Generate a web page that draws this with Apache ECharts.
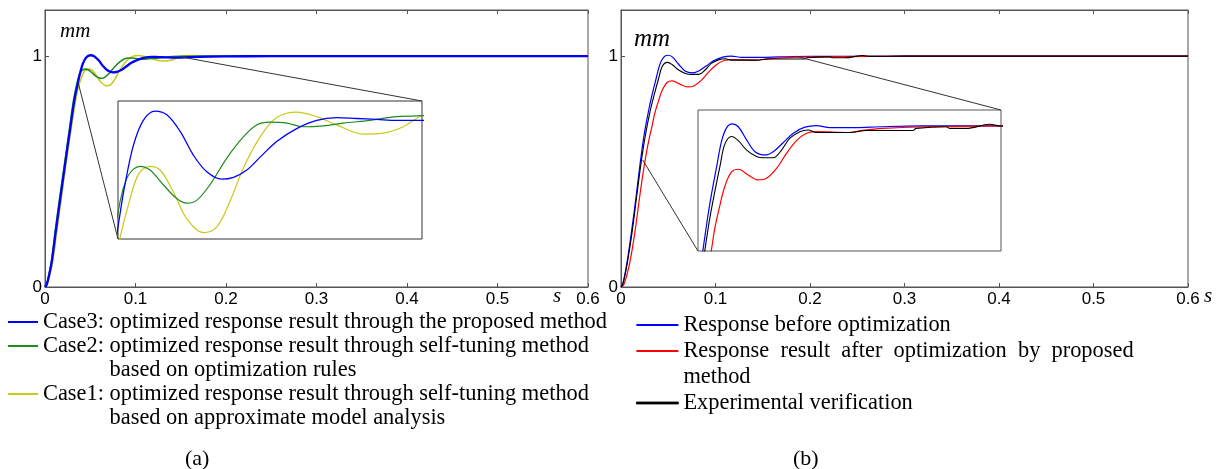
<!DOCTYPE html>
<html>
<head>
<meta charset="utf-8">
<style>
html,body{margin:0;padding:0;background:#fff;}
#chart{width:1225px;height:469px;}
</style>
<script src="https://cdn.jsdelivr.net/npm/echarts@6/dist/echarts.min.js"></script>
</head>
<body>
<div id="chart"></div>
<script>
// (a) step responses [time s, displacement mm]
const case3 = [[0,0],[0.002,0.012],[0.004,0.042],[0.0075,0.11],[0.0122,0.25],[0.0173,0.395],[0.0225,0.54],[0.0276,0.68],[0.0325,0.81],[0.0368,0.893],[0.0386,0.924],[0.0418,0.967],[0.0455,0.994],[0.0499,1.004],[0.0543,1.0],[0.0593,0.982],[0.0643,0.956],[0.0693,0.938],[0.0749,0.93],[0.0793,0.932],[0.0843,0.94],[0.0893,0.954],[0.0955,0.971],[0.103,0.985],[0.1105,0.994],[0.118,0.997],[0.1255,0.996],[0.133,0.995],[0.1405,0.994],[0.15,0.994],[0.17,0.997],[0.2,0.999],[0.25,1.0],[0.6,1.0]];
const case2 = [[0,0],[0.002,0.014],[0.004,0.048],[0.007,0.11],[0.0115,0.25],[0.0165,0.395],[0.0218,0.54],[0.027,0.685],[0.032,0.82],[0.0368,0.906],[0.0393,0.931],[0.0418,0.941],[0.0443,0.944],[0.048,0.94],[0.053,0.924],[0.058,0.909],[0.0618,0.904],[0.0655,0.907],[0.0705,0.924],[0.0768,0.953],[0.083,0.976],[0.088,0.989],[0.093,0.992],[0.0993,0.991],[0.1055,0.987],[0.113,0.988],[0.1205,0.991],[0.1305,0.994],[0.1405,0.998],[0.15,0.999],[0.18,1.0],[0.6,1.0]];
const case1 = [[0,0],[0.002,0.008],[0.004,0.034],[0.008,0.1],[0.013,0.24],[0.018,0.385],[0.023,0.53],[0.0285,0.675],[0.0335,0.8],[0.0368,0.866],[0.0399,0.902],[0.0436,0.935],[0.0478,0.944],[0.0518,0.94],[0.0568,0.916],[0.0618,0.887],[0.068,0.872],[0.073,0.878],[0.078,0.906],[0.083,0.942],[0.0893,0.976],[0.0955,0.997],[0.103,1.003],[0.1105,0.998],[0.118,0.989],[0.128,0.979],[0.1355,0.98],[0.143,0.987],[0.15,0.999],[0.16,1.003],[0.18,1.001],[0.21,1.0],[0.6,1.0]];

// (b)
const before = [[0,0],[0.002,0.015],[0.0061,0.1],[0.0113,0.245],[0.0159,0.39],[0.0201,0.53],[0.0243,0.655],[0.0295,0.77],[0.033,0.835],[0.037,0.9],[0.041,0.963],[0.045,0.995],[0.0495,1.004],[0.0543,0.997],[0.061,0.965],[0.0677,0.936],[0.0757,0.928],[0.0823,0.936],[0.0903,0.958],[0.0984,0.981],[0.1077,0.996],[0.117,1.0],[0.1277,0.995],[0.149,0.995],[0.1678,0.997],[0.2025,0.999],[0.264,0.999],[0.3,1.0],[0.6,1.0]];
const after = [[0,0],[0.003,0.01],[0.009,0.1],[0.0148,0.24],[0.0194,0.38],[0.0236,0.5],[0.0282,0.61],[0.033,0.7],[0.0356,0.75],[0.0396,0.805],[0.0436,0.852],[0.049,0.887],[0.0543,0.893],[0.0623,0.879],[0.0703,0.867],[0.077,0.871],[0.085,0.895],[0.093,0.932],[0.101,0.963],[0.109,0.981],[0.117,0.985],[0.1437,0.983],[0.154,0.988],[0.17,0.993],[0.2025,0.997],[0.264,0.999],[0.3,1.0],[0.6,1.0]];
const experiment = [[0,0],[0.002,0.013],[0.0065,0.1],[0.012,0.245],[0.0165,0.39],[0.021,0.53],[0.0255,0.65],[0.031,0.765],[0.0356,0.84],[0.0396,0.9],[0.0436,0.955],[0.049,0.973],[0.0543,0.963],[0.061,0.94],[0.069,0.924],[0.0743,0.921],[0.0823,0.921],[0.089,0.94],[0.0957,0.969],[0.1037,0.985],[0.1104,0.989],[0.117,0.983],[0.1437,0.983],[0.157,0.988],[0.1945,0.988],[0.197,0.993],[0.221,0.997],[0.224,0.993],[0.237,0.993],[0.256,1.003],[0.264,0.999],[0.3,1.0],[0.6,1.0]];

const xTicks = [0, 0.1, 0.2, 0.3, 0.4, 0.5, 0.6];
const yTicks = [0, 1];

// zoomed windows of the insets
const insetA = { x: [0.036, 0.15], y: [0.865, 1.015] };
const insetB = { x: [0.022, 0.265], y: [0.693, 1.038] };
// where the zoom lines leave the main curves
const zoomFromA = [[0.037, 0.88], [0.15, 0.997]];
const zoomFromB = [[0.023, 0.55], [0.185, 1.0]];

const namesA = [
  'Case3: optimized response result through the proposed method',
  'Case2: optimized response result through self-tuning method based on optimization rules',
  'Case1: optimized response result through self-tuning method based on approximate model analysis'
];
const namesB = [
  'Response before optimization',
  'Response result after optimization by proposed method',
  'Experimental verification'
];

const BLUE = '#0000ff', GREEN = '#1f8a1f', YELLOW = '#c9c917', RED = '#ff0000', BLACK = '#000000';
const serif = 'Liberation Serif, Times New Roman, serif';
const sans = 'Liberation Sans, Arial, sans-serif';

function mainX(grid, gap) {
  return [{
    type: 'value', gridIndex: grid, position: 'bottom', min: 0, max: 0.6, interval: 0.1,
    name: 's', nameLocation: 'end', nameGap: gap, nameMoveOverlap: false,
    nameTextStyle: { fontFamily: serif, fontStyle: 'italic', fontSize: 21, lineHeight: 18, color: '#000', verticalAlign: 'top' },
    axisLine: { lineStyle: { color: '#555' } },
    axisTick: { inside: true, length: 4, customValues: xTicks, lineStyle: { color: '#555' } },
    axisLabel: { customValues: xTicks, fontFamily: sans, fontSize: 17, color: '#000', margin: 4 },
    splitLine: { show: false }
  }, {
    type: 'value', gridIndex: grid, position: 'top', min: 0, max: 0.6, interval: 0.1,
    axisLine: { lineStyle: { color: '#555' } },
    axisTick: { inside: true, length: 4, customValues: xTicks, lineStyle: { color: '#555' } },
    axisLabel: { show: false }, splitLine: { show: false }
  }];
}
function mainY(grid, gap, size, pad) {
  return {
    type: 'value', gridIndex: grid, min: 0, max: 1.2,
    name: 'mm', nameLocation: 'end', nameGap: gap, nameMoveOverlap: false,
    nameTextStyle: { fontFamily: serif, fontStyle: 'italic', fontSize: size, color: '#000', align: 'left', verticalAlign: 'middle', padding: [0, 0, 0, pad] },
    axisLine: { lineStyle: { color: '#555' } },
    axisTick: { inside: true, length: 4, customValues: yTicks, lineStyle: { color: '#555' } },
    axisLabel: { customValues: yTicks, fontFamily: sans, fontSize: 17, color: '#000', margin: 3 },
    splitLine: { show: false }
  };
}
function insetAxis(grid, r) {
  return { type: 'value', gridIndex: grid, min: r[0], max: r[1], show: false, splitLine: { show: false } };
}
function line(name, data, color, width, xi, yi) {
  return {
    type: 'line', name: name, data: data, xAxisIndex: xi, yAxisIndex: yi,
    symbol: 'none', smooth: 0.35, clip: true, silent: true,
    lineStyle: { color: color, width: width }, itemStyle: { color: color }
  };
}

const legendText = {
  fontFamily: serif, fontSize: 22.4, color: '#000'
};
const hid = { color: 'rgba(0,0,0,0)', fontFamily: serif, fontSize: 22.4 };

const option = {
  animation: false,
  backgroundColor: '#fff',
  grid: [
    { left: 45, top: 10, right: 637, bottom: 182, show: true, borderColor: '#555', borderWidth: 1 },
    { left: 118, top: 101, right: 803, bottom: 230, show: true, borderColor: '#333', borderWidth: 1, backgroundColor: '#fff' },
    { left: 621, top: 10, right: 37, bottom: 182, show: true, borderColor: '#555', borderWidth: 1 },
    { left: 698, top: 110, right: 224, bottom: 218, show: true, borderColor: '#555', borderWidth: 1, backgroundColor: '#fff' }
  ],
  xAxis: [].concat(mainX(0, -35), [insetAxis(1, insetA.x)], mainX(2, 16), [insetAxis(3, insetB.x)]),
  yAxis: [mainY(0, -21, 21, 15), insetAxis(1, insetA.y), mainY(2, -29, 25, 13), insetAxis(3, insetB.y)],
  title: [
    { text: '(a)', left: 185, top: 448, padding: 0, textStyle: { fontFamily: serif, fontSize: 22, fontWeight: 'normal', color: '#000' } },
    { text: '(b)', left: 793, top: 448, padding: 0, textStyle: { fontFamily: serif, fontSize: 22, fontWeight: 'normal', color: '#000' } }
  ],
  legend: [{
    data: namesA, orient: 'vertical', left: 8, top: 310, padding: 0, itemGap: -24,
    icon: 'rect', itemWidth: 30, itemHeight: 2, selectedMode: false,
    itemStyle: { borderWidth: 0 },
    textStyle: Object.assign({ lineHeight: 24, rich: { h: Object.assign({ lineHeight: 24 }, hid) } }, legendText),
    formatter: function (n) {
      if (n === namesA[1]) return '{h|.}\nCase2: optimized response result through self-tuning method\n{h|Case2: }based on optimization rules';
      if (n === namesA[2]) return '{h|.}\nCase1: optimized response result through self-tuning method\n{h|Case1: }based on approximate model analysis';
      return n;
    }
  }, {
    data: [namesB[0], namesB[1], { name: namesB[2], itemStyle: { borderWidth: 0.8, borderColor: BLACK } }],
    orient: 'vertical', left: 636, top: 312, padding: 0, itemGap: -26,
    icon: 'rect', itemWidth: 42, itemHeight: 2, selectedMode: false,
    itemStyle: { borderWidth: 0 },
    textStyle: Object.assign({ lineHeight: 26, rich: { h: Object.assign({ lineHeight: 26 }, hid) } }, legendText),
    formatter: function (n) {
      if (n === namesB[1]) return '{h|.}\nResponse  result  after  optimization  by  proposed\nmethod';
      if (n === namesB[2]) return '{h|.}\nExperimental verification\n{h|.}';
      return n;
    }
  }],
  series: [
    line(namesA[2], case1, YELLOW, 1.6, 0, 0),
    line(namesA[1], case2, GREEN, 1.6, 0, 0),
    line(namesA[0], case3, BLUE, 2.3, 0, 0),
    line(namesA[2], case1, YELLOW, 1.2, 2, 1),
    line(namesA[1], case2, GREEN, 1.2, 2, 1),
    line(namesA[0], case3, BLUE, 1.3, 2, 1),
    line(namesB[0], before, BLUE, 1.2, 3, 2),
    line(namesB[1], after, RED, 1.2, 3, 2),
    line(namesB[2], experiment, BLACK, 1.1, 3, 2),
    line(namesB[0], before, BLUE, 1.2, 5, 3),
    line(namesB[1], after, RED, 1.2, 5, 3),
    line(namesB[2], experiment, BLACK, 1.1, 5, 3)
  ]
};

const chart = echarts.init(document.getElementById('chart'), null, { renderer: 'canvas' });
chart.setOption(option);

// zoom lines from the main plot to the inset corners
function link(mainSeries, from, insetSeries, to) {
  const a = chart.convertToPixel({ seriesIndex: mainSeries }, from);
  const b = chart.convertToPixel({ seriesIndex: insetSeries }, to);
  return { type: 'line', z: 50, silent: true, shape: { x1: a[0], y1: a[1], x2: b[0], y2: b[1] }, style: { stroke: '#333', lineWidth: 1 } };
}
chart.setOption({
  graphic: [
    link(0, zoomFromA[0], 3, [insetA.x[0], insetA.y[0]]),
    link(0, zoomFromA[1], 3, [insetA.x[1], insetA.y[1]]),
    link(6, zoomFromB[0], 9, [insetB.x[0], insetB.y[0]]),
    link(6, zoomFromB[1], 9, [insetB.x[1], insetB.y[1]])
  ]
});
</script>
</body>
</html>
